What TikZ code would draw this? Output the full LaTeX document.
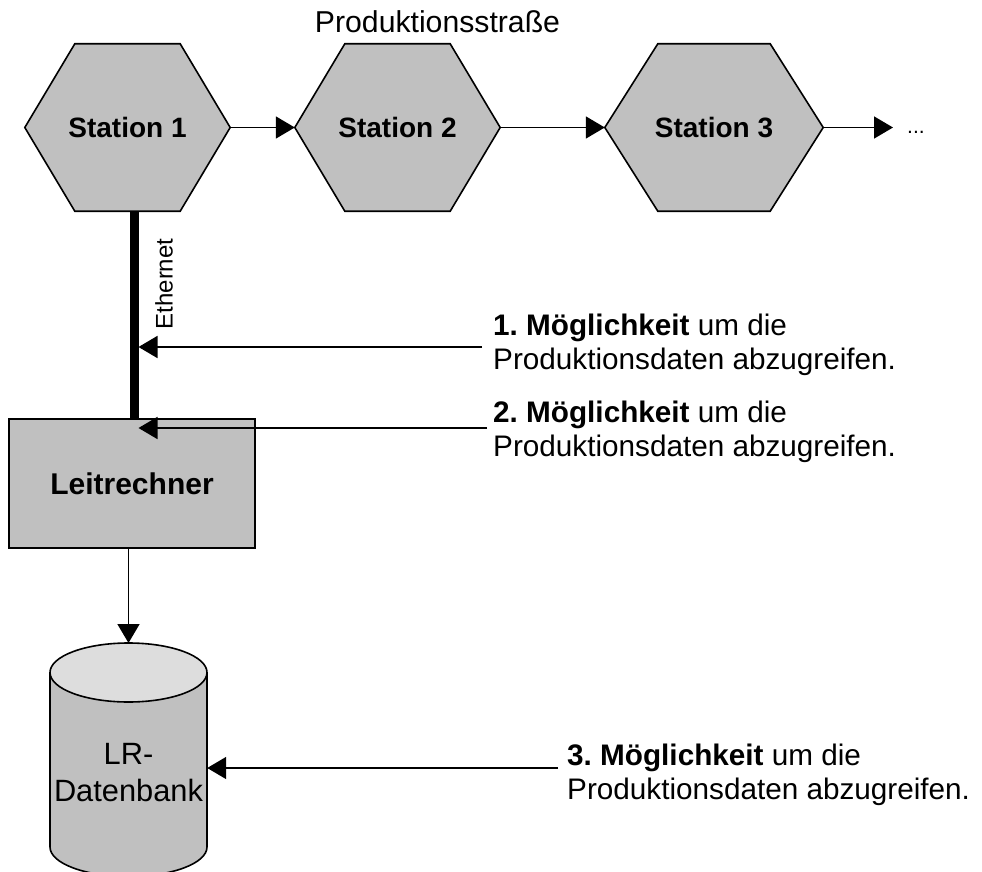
\documentclass[tikz,border=0pt]{standalone}
\usepackage{fontspec}
\setmainfont{Liberation Sans}
\usetikzlibrary{arrows.meta,backgrounds}
\definecolor{boxgray}{RGB}{192,192,192}
\definecolor{lidgray}{RGB}{221,221,221}
\frenchspacing
\begin{document}
\begin{tikzpicture}[x=1pt,y=-1pt,
  outline/.style={draw=black,line width=1.6pt,line join=miter},
  station/.style={rectangle,inner sep=0pt,minimum width=205pt,minimum height=167pt,
    font=\fontsize{28}{32}\selectfont\bfseries},
  flow/.style={line width=1.6pt,-{Triangle[length=19pt,width=22pt]}},
  note/.style={align=left,anchor=west,inner sep=0pt,font=\fontsize{29.7}{34}\selectfont},
  busline/.style={line width=9pt},
]
\useasboundingbox (0,0) rectangle (982,872);

% production line
\node[font=\fontsize{30.2}{34}\selectfont,anchor=base,inner sep=0pt] (title) at (437.5,33) {Produktionsstraße};
\node[station] (st1) at (127.5,127.5) {Station 1};
\node[station] (st2) at (397.5,127.5) {Station 2};
\node[station,minimum width=218pt] (st3) at (714,127.5) {Station 3};
\node[font=\fontsize{21}{24}\selectfont,inner sep=0pt,anchor=base west] (more) at (907,134) {...};

\begin{scope}[on background layer]
  \foreach \n/\d in {st1/50,st2/50,st3/53}{
    \filldraw[fill=boxgray,outline] (\n.west) -- ([xshift=\d pt]\n.north west)
      -- ([xshift=-\d pt]\n.north east) -- (\n.east)
      -- ([xshift=-\d pt]\n.south east) -- ([xshift=\d pt]\n.south west) -- cycle;
  }
\end{scope}

\path ([xshift=-14pt]more.west) coordinate (moretip);
\draw[flow] (st1.east) -- (st2.west);
\draw[flow] (st2.east) -- (st3.west);
\draw[flow] (st3.east) -- (st3.east -| moretip);

% control computer and bus
\node[draw,fill=boxgray,line width=1.6pt,minimum width=246pt,minimum height=129pt,inner sep=0pt,
  font=\fontsize{30}{34}\selectfont\bfseries] (lr) at (132,483.5) {Leitrechner};
\path ([xshift=6.5pt]st1.south) coordinate (bustop)
      ([xshift=11pt]st1.south) coordinate (busedge);
\draw[busline] (bustop) -- (bustop |- lr.north);
\node[rotate=90,inner sep=0pt,font=\fontsize{24}{28}\selectfont] (eth) at (164,284) {Ethernet};

% database
\begin{scope}[on background layer]
  \filldraw[fill=boxgray,outline] (50,672.5) -- (50,847)
    arc[start angle=180,end angle=360,x radius=78.5pt,y radius=29.5pt] -- (207,672.5);
  \filldraw[fill=lidgray,outline] (128.5,672.5) ellipse[x radius=78.5pt,y radius=29.5pt];
\end{scope}
\node[inner sep=0pt,minimum width=157pt,align=center,font=\fontsize{30.8}{37}\selectfont] (db) at (128.5,772.75) {LR-\\Datenbank};
\coordinate (dbtop) at (128.5,643);
\draw[flow] (lr.south -| dbtop) -- (dbtop);

% access options
\node[note] (m1) at (493,344.7) {\textbf{1. Möglichkeit} um die\\Produktionsdaten abzugreifen.};
\node[note] (m2) at (493,431.7) {\textbf{2. Möglichkeit} um die\\Produktionsdaten abzugreifen.};
\node[note] (m3) at (567,774.7) {\textbf{3. Möglichkeit} um die\\Produktionsdaten abzugreifen.};
\coordinate (a1) at (482,347);
\coordinate (a2) at (487,428);
\coordinate (a3) at (558,768);
\draw[flow] (a1) -- (a1 -| busedge);
\draw[flow] (a2) -- (a2 -| busedge);
\draw[flow] (a3) -- (a3 -| db.east);
\end{tikzpicture}
\end{document}
